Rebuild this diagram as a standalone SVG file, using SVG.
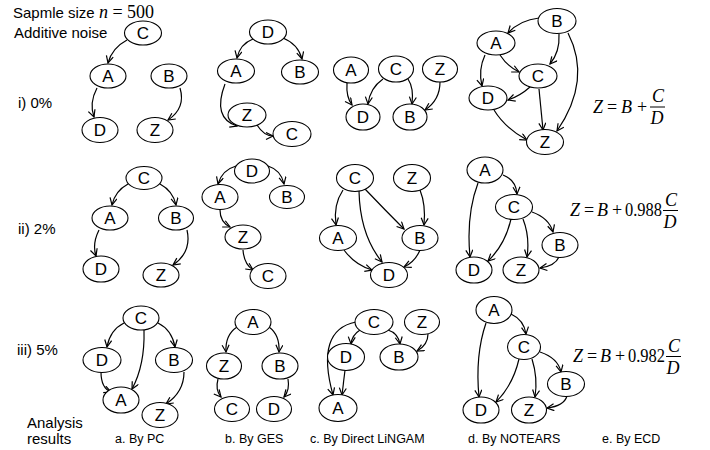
<svg xmlns="http://www.w3.org/2000/svg" width="710" height="450" viewBox="0 0 710 450">
<style>
.n ellipse{fill:#fff;stroke:#000;stroke-width:1.1}
.n text{font-family:"Liberation Sans",Arial,sans-serif;font-size:17px;text-anchor:middle;fill:#000}
.e path{fill:none;stroke:#000;stroke-width:1.2;marker-end:url(#ar)}
.t{font-family:"Liberation Sans",Arial,sans-serif;font-size:15px;fill:#000}
.c{font-family:"Liberation Sans",Arial,sans-serif;font-size:12.5px;fill:#000}
.m{font-family:"Liberation Serif","Times New Roman",serif;font-size:18px;fill:#000}
.i{font-style:italic}
</style>
<defs>
<marker id="ar" markerWidth="10" markerHeight="10" refX="8" refY="4" orient="auto" markerUnits="userSpaceOnUse">
<path d="M1,0.5 L8,4 L1,7.5" fill="none" stroke="#000" stroke-width="1.2"/>
</marker>
</defs>
<rect width="710" height="450" fill="#fff"/>

<!-- labels -->
<text class="t" x="13" y="18" font-size="14.5">Sapmle size <tspan class="m i" font-size="16">n</tspan><tspan class="m" font-size="16"> = 500</tspan></text>
<text class="t" x="14" y="38" font-size="14.5">Additive noise</text>
<text class="t" x="18" y="108">i) 0%</text>
<text class="t" x="18" y="234">ii) 2%</text>
<text class="t" x="17" y="355">iii) 5%</text>
<text class="t" x="27" y="428">Analysis</text>
<text class="t" x="27" y="444">results</text>
<text class="c" x="115" y="443">a. By PC</text>
<text class="c" x="225" y="443">b. By GES</text>
<text class="c" x="310" y="443">c. By Direct LiNGAM</text>
<text class="c" x="468" y="443">d. By NOTEARS</text>
<text class="c" x="602" y="443">e. By ECD</text>

<!-- equations -->
<g id="eq1">
<text class="m" y="113"><tspan class="i" x="593">Z</tspan><tspan x="607">=</tspan><tspan class="i" x="621">B</tspan><tspan x="637">+</tspan></text>
<text class="m i" x="658" y="102" text-anchor="middle">C</text>
<line x1="650" y1="107" x2="665" y2="107" stroke="#000" stroke-width="1"/>
<text class="m i" x="657" y="124" text-anchor="middle">D</text>
</g>
<g id="eq2">
<text class="m" y="216"><tspan class="i" x="570">Z</tspan><tspan x="584">=</tspan><tspan class="i" x="597">B</tspan><tspan x="612">+</tspan><tspan x="625" textLength="37" lengthAdjust="spacingAndGlyphs">0.988</tspan></text>
<text class="m i" x="671" y="206" text-anchor="middle">C</text>
<line x1="663" y1="210.5" x2="678" y2="210.5" stroke="#000" stroke-width="1"/>
<text class="m i" x="670" y="228" text-anchor="middle">D</text>
</g>
<g id="eq3">
<text class="m" y="362"><tspan class="i" x="573">Z</tspan><tspan x="587">=</tspan><tspan class="i" x="600">B</tspan><tspan x="615">+</tspan><tspan x="628" textLength="37" lengthAdjust="spacingAndGlyphs">0.982</tspan></text>
<text class="m i" x="674" y="352" text-anchor="middle">C</text>
<line x1="666" y1="356.5" x2="681" y2="356.5" stroke="#000" stroke-width="1"/>
<text class="m i" x="673" y="374" text-anchor="middle">D</text>
</g>

<!-- connectors -->
<g class="e" id="connectors">
<!-- r1a -->
<path d="M127,40 Q112,48 108,63"/>
<path d="M97,88 Q89,103 94,117"/>
<path d="M180,88 Q186,108 168,120"/>
<!-- r1b -->
<path d="M253,39 Q240,44 237,58"/>
<path d="M283,38 Q298,44 302,59"/>
<path d="M225,84 Q212,118 237,126"/>
<path d="M257,125 Q264,136 273,136"/>
<!-- r1c -->
<path d="M347,83 Q346,97 352,105"/>
<path d="M383,79 Q370,88 368,104"/>
<path d="M408,79 Q414,88 412,104"/>
<path d="M440,82 Q440,100 425,110"/>
<!-- r1d -->
<path d="M539,18 Q520,20 508,33"/>
<path d="M559,34 Q560,52 550,64"/>
<path d="M568,33 Q592,80 557,131"/>
<path d="M500,55 Q507,66 519,72"/>
<path d="M485,55 Q478,70 482,86"/>
<path d="M530,87 Q520,96 508,100"/>
<path d="M539,89 L543,130"/>
<path d="M494,110 Q505,128 527,140"/>
<!-- r2a -->
<path d="M128,184 Q115,191 112,205"/>
<path d="M160,184 Q173,191 176,205"/>
<path d="M99,230 Q92,244 96,256"/>
<path d="M187,230 Q192,252 173,265"/>
<!-- r2b -->
<path d="M236,166 Q222,170 218,184"/>
<path d="M268,166 Q281,170 284,184"/>
<path d="M220,210 Q220,222 230,227"/>
<path d="M243,250 Q244,264 253,270"/>
<!-- r2c -->
<path d="M343,190 Q333,205 336,225"/>
<path d="M359,191 Q360,235 382,262"/>
<path d="M365,189 Q385,210 404,229"/>
<path d="M420,190 Q426,205 424,225"/>
<path d="M344,250 Q355,265 372,270"/>
<path d="M420,250 Q415,262 404,267"/>
<!-- r2d -->
<path d="M503,175 Q516,180 517,194"/>
<path d="M478,183 Q466,215 470,257"/>
<path d="M511,219 Q505,245 488,261"/>
<path d="M523,219 Q530,237 527,257"/>
<path d="M532,212 Q549,218 553,232"/>
<path d="M559,257 Q555,266 540,268"/>
<!-- r3a -->
<path d="M124,323 Q110,330 107,347"/>
<path d="M144,330 Q145,365 132,389"/>
<path d="M158,323 Q172,330 175,347"/>
<path d="M101,372 Q101,388 111,392"/>
<path d="M184,372 Q184,392 166,404"/>
<!-- r3b -->
<path d="M237,327 Q225,335 226,352"/>
<path d="M269,327 Q280,335 279,352"/>
<path d="M218,379 Q215,390 221,397"/>
<path d="M288,379 Q290,390 284,397"/>
<!-- r3c -->
<path d="M356,322 Q315,330 333,395"/>
<path d="M360,330 Q352,335 351,344"/>
<path d="M388,330 Q398,333 400,344"/>
<path d="M428,334 Q428,345 417,351"/>
<path d="M345,370 L342,395"/>
<!-- r3d -->
<path d="M511,314 Q524,320 526,334"/>
<path d="M486,323 Q475,355 479,397"/>
<path d="M519,359 Q513,385 496,402"/>
<path d="M532,359 Q538,378 535,397"/>
<path d="M540,352 Q558,358 561,372"/>
<path d="M567,396 Q564,406 547,408"/>
</g>

<!-- nodes row 1 -->
<g class="n" id="r1a-C"><ellipse cx="143" cy="33" rx="18.5" ry="12"/><text x="143" y="39">C</text></g>
<g class="n" id="r1a-A"><ellipse cx="108" cy="76" rx="18" ry="12"/><text x="108" y="82">A</text></g>
<g class="n" id="r1a-B"><ellipse cx="169" cy="76" rx="18" ry="12"/><text x="169" y="82">B</text></g>
<g class="n" id="r1a-D"><ellipse cx="100" cy="130" rx="18" ry="12.5"/><text x="100" y="136">D</text></g>
<g class="n" id="r1a-Z"><ellipse cx="155" cy="130" rx="18" ry="12.5"/><text x="155" y="136">Z</text></g>

<g class="n" id="r1b-D"><ellipse cx="268" cy="32" rx="18.5" ry="12"/><text x="268" y="38">D</text></g>
<g class="n" id="r1b-A"><ellipse cx="236" cy="71" rx="18.5" ry="12"/><text x="236" y="77">A</text></g>
<g class="n" id="r1b-B"><ellipse cx="300" cy="72" rx="18.5" ry="12"/><text x="300" y="78">B</text></g>
<g class="n" id="r1b-Z"><ellipse cx="247" cy="115" rx="19" ry="12"/><text x="247" y="121">Z</text></g>
<g class="n" id="r1b-C"><ellipse cx="292" cy="134" rx="19" ry="12.5"/><text x="292" y="140">C</text></g>

<g class="n" id="r1c-A"><ellipse cx="351" cy="70" rx="17.5" ry="13"/><text x="351" y="76">A</text></g>
<g class="n" id="r1c-C"><ellipse cx="396" cy="69" rx="17.5" ry="13"/><text x="396" y="75">C</text></g>
<g class="n" id="r1c-Z"><ellipse cx="440" cy="69" rx="17.5" ry="13"/><text x="440" y="75">Z</text></g>
<g class="n" id="r1c-D"><ellipse cx="363" cy="117" rx="17" ry="13"/><text x="363" y="123">D</text></g>
<g class="n" id="r1c-B"><ellipse cx="410" cy="117" rx="17" ry="13"/><text x="410" y="123">B</text></g>

<g class="n" id="r1d-B"><ellipse cx="557" cy="21" rx="19" ry="12.5"/><text x="557" y="27">B</text></g>
<g class="n" id="r1d-A"><ellipse cx="496" cy="43" rx="19" ry="12"/><text x="496" y="49">A</text></g>
<g class="n" id="r1d-C"><ellipse cx="538" cy="76" rx="19" ry="12"/><text x="538" y="82">C</text></g>
<g class="n" id="r1d-D"><ellipse cx="488" cy="98" rx="19" ry="12"/><text x="488" y="104">D</text></g>
<g class="n" id="r1d-Z"><ellipse cx="545" cy="142" rx="18.5" ry="12.5"/><text x="545" y="148">Z</text></g>

<!-- nodes row 2 -->
<g class="n" id="r2a-C"><ellipse cx="144" cy="178" rx="18" ry="11.5"/><text x="144" y="184">C</text></g>
<g class="n" id="r2a-A"><ellipse cx="110" cy="218" rx="18" ry="12"/><text x="110" y="224">A</text></g>
<g class="n" id="r2a-B"><ellipse cx="176" cy="218" rx="17.5" ry="12"/><text x="176" y="224">B</text></g>
<g class="n" id="r2a-D"><ellipse cx="101" cy="269" rx="18" ry="13"/><text x="101" y="275">D</text></g>
<g class="n" id="r2a-Z"><ellipse cx="161" cy="275" rx="18" ry="12"/><text x="161" y="281">Z</text></g>

<g class="n" id="r2b-D"><ellipse cx="252" cy="171" rx="17.5" ry="12"/><text x="252" y="177">D</text></g>
<g class="n" id="r2b-A"><ellipse cx="220" cy="197" rx="18" ry="12.5"/><text x="220" y="203">A</text></g>
<g class="n" id="r2b-B"><ellipse cx="287" cy="197" rx="17.5" ry="11.5"/><text x="287" y="203">B</text></g>
<g class="n" id="r2b-Z"><ellipse cx="243" cy="237" rx="18" ry="12"/><text x="243" y="243">Z</text></g>
<g class="n" id="r2b-C"><ellipse cx="268" cy="276" rx="18" ry="12.5"/><text x="268" y="282">C</text></g>

<g class="n" id="r2c-C"><ellipse cx="355" cy="178" rx="18.5" ry="13.5"/><text x="355" y="184">C</text></g>
<g class="n" id="r2c-Z"><ellipse cx="412" cy="178" rx="18.5" ry="13.5"/><text x="412" y="184">Z</text></g>
<g class="n" id="r2c-A"><ellipse cx="338" cy="238" rx="18.5" ry="12.5"/><text x="338" y="244">A</text></g>
<g class="n" id="r2c-B"><ellipse cx="420" cy="238" rx="18" ry="12.5"/><text x="420" y="244">B</text></g>
<g class="n" id="r2c-D"><ellipse cx="389" cy="275" rx="18.5" ry="12.5"/><text x="389" y="281">D</text></g>

<g class="n" id="r2d-A"><ellipse cx="485" cy="170" rx="18" ry="13"/><text x="485" y="176">A</text></g>
<g class="n" id="r2d-C"><ellipse cx="514" cy="207" rx="18.5" ry="12.5"/><text x="514" y="213">C</text></g>
<g class="n" id="r2d-B"><ellipse cx="560" cy="245" rx="18" ry="12.5"/><text x="560" y="251">B</text></g>
<g class="n" id="r2d-D"><ellipse cx="474" cy="270" rx="18" ry="13"/><text x="474" y="276">D</text></g>
<g class="n" id="r2d-Z"><ellipse cx="521" cy="270" rx="18" ry="13"/><text x="521" y="276">Z</text></g>

<!-- nodes row 3 -->
<g class="n" id="r3a-C"><ellipse cx="141" cy="318" rx="18" ry="12"/><text x="141" y="324">C</text></g>
<g class="n" id="r3a-D"><ellipse cx="102" cy="360" rx="19" ry="12.5"/><text x="102" y="366">D</text></g>
<g class="n" id="r3a-B"><ellipse cx="174" cy="360" rx="18.5" ry="12.5"/><text x="174" y="366">B</text></g>
<g class="n" id="r3a-A"><ellipse cx="121" cy="400" rx="18" ry="13"/><text x="121" y="406">A</text></g>
<g class="n" id="r3a-Z"><ellipse cx="160" cy="415" rx="18" ry="12.5"/><text x="160" y="421">Z</text></g>

<g class="n" id="r3b-A"><ellipse cx="253" cy="322" rx="18" ry="12.5"/><text x="253" y="328">A</text></g>
<g class="n" id="r3b-Z"><ellipse cx="224" cy="366" rx="17.5" ry="13"/><text x="224" y="372">Z</text></g>
<g class="n" id="r3b-B"><ellipse cx="280" cy="366" rx="18" ry="13"/><text x="280" y="372">B</text></g>
<g class="n" id="r3b-C"><ellipse cx="232" cy="409" rx="17.5" ry="12.5"/><text x="232" y="415">C</text></g>
<g class="n" id="r3b-D"><ellipse cx="274" cy="409" rx="17.5" ry="12.5"/><text x="274" y="415">D</text></g>

<g class="n" id="r3c-C"><ellipse cx="374" cy="322" rx="19" ry="12.5"/><text x="374" y="328">C</text></g>
<g class="n" id="r3c-Z"><ellipse cx="422" cy="322" rx="17.5" ry="12.5"/><text x="422" y="328">Z</text></g>
<g class="n" id="r3c-D"><ellipse cx="346" cy="357" rx="18.5" ry="13.5"/><text x="346" y="363">D</text></g>
<g class="n" id="r3c-B"><ellipse cx="399" cy="357" rx="19" ry="13"/><text x="399" y="363">B</text></g>
<g class="n" id="r3c-A"><ellipse cx="338" cy="408" rx="19" ry="13.5"/><text x="338" y="414">A</text></g>

<g class="n" id="r3d-A"><ellipse cx="494" cy="310" rx="18" ry="13.5"/><text x="494" y="316">A</text></g>
<g class="n" id="r3d-C"><ellipse cx="524" cy="347" rx="16.5" ry="12.5"/><text x="524" y="353">C</text></g>
<g class="n" id="r3d-B"><ellipse cx="566" cy="384" rx="18.5" ry="12.5"/><text x="566" y="390">B</text></g>
<g class="n" id="r3d-D"><ellipse cx="481" cy="410" rx="18" ry="13"/><text x="481" y="416">D</text></g>
<g class="n" id="r3d-Z"><ellipse cx="529" cy="410" rx="17.5" ry="13"/><text x="529" y="416">Z</text></g>
</svg>
